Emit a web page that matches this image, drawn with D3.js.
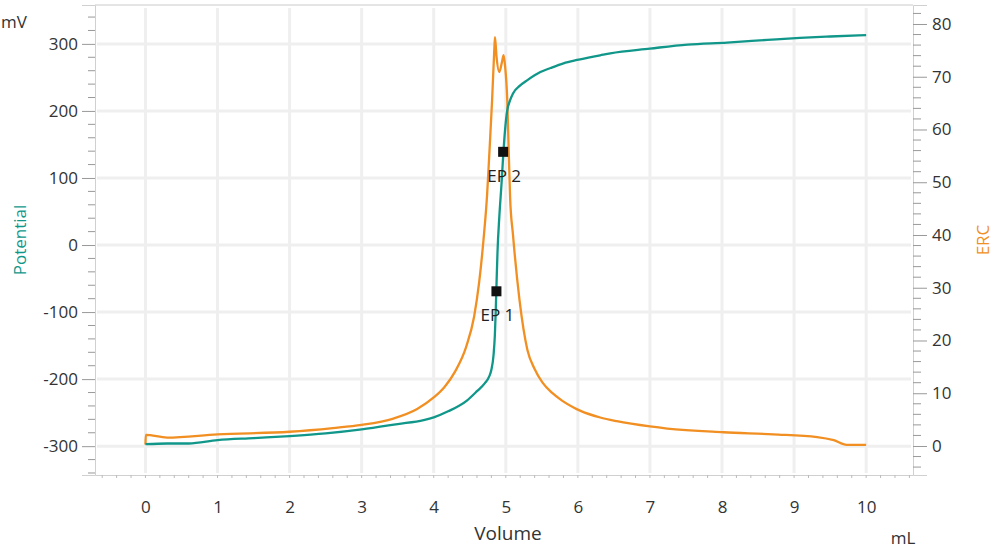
<!DOCTYPE html>
<html>
<head>
<meta charset="utf-8">
<script src="https://cdn.jsdelivr.net/npm/d3@7"></script>
<style>
  body { margin: 0; background: #fff; }
  svg text { font-family: "Open Sans", "Noto Sans", sans-serif; }
</style>
</head>
<body>
<svg id="chart" width="1000" height="557"></svg>
<script>
// titration curve: potential (left axis) and ERC (right axis) vs volume
var potVol = [0, 0.3, 0.6, 1.0, 1.5, 2.0, 2.5, 3.0, 3.5, 3.86, 4.0, 4.2, 4.46, 4.6, 4.71, 4.77, 4.80, 4.83, 4.848, 4.86, 4.872, 4.885, 4.91, 4.944, 4.962, 4.99, 5.017, 5.06, 5.1, 5.2, 5.3, 5.48, 5.62, 5.8, 5.99, 6.31, 6.45, 7.0, 7.52, 8.07, 8.63, 9.08, 9.5, 10.0];
var potMv = [-297, -296, -296, -291, -288, -285, -281, -275, -267, -261, -257, -248, -232, -218, -206, -196, -186, -164, -135, -100, -55, -10, 42, 97, 130, 172, 199, 216, 226, 238, 246, 258, 264, 271, 276, 283, 286, 293, 299, 302, 306, 309, 311, 313];

var ercVol = [0, 0.005, 0.3, 1.0, 2.0, 2.6, 3.0, 3.44, 3.77, 4.0, 4.15, 4.30, 4.45, 4.56, 4.63, 4.69, 4.74, 4.77, 4.81, 4.84, 4.85, 4.87, 4.91, 4.95, 4.97, 4.99, 5.02, 5.04, 5.06, 5.1, 5.19, 5.30, 5.40, 5.51, 5.64, 5.78, 5.94, 6.03, 6.31, 6.54, 7.0, 7.24, 8.02, 8.71, 9.32, 9.55, 9.73, 10.0];
var ercVal = [0.3, 2.1, 1.6, 2.2, 2.7, 3.4, 4.0, 5.2, 7.0, 9.2, 11.2, 14.2, 18.8, 24.5, 31, 39, 47.5, 55, 65.6, 75, 77.5, 74, 70.9, 73, 74.1, 72, 65.6, 56.1, 47, 40, 27.7, 18.2, 14.6, 12.0, 10.1, 8.6, 7.3, 6.7, 5.4, 4.7, 3.7, 3.3, 2.6, 2.2, 1.7, 1.1, 0.2, 0.2];

var epVol = [4.87, 4.963];
var epMv = [-69, 139];
var epNames = ["EP 1", "EP 2"];

var xTicks = [0, 1, 2, 3, 4, 5, 6, 7, 8, 9, 10];
var leftTicks = [-300, -200, -100, 0, 100, 200, 300];
var rightTicks = [0, 10, 20, 30, 40, 50, 60, 70, 80];

var teal = "#10978a", orange = "#f18f22";

var svg = d3.select("#chart");
var x = d3.scaleLinear().domain([-0.7, 10.65]).range([95, 913]);
var yL = d3.scaleLinear().domain([-343, 358]).range([475, 5]);
var yR = d3.scaleLinear().domain([-5.5, 83.6]).range([475, 5]);

// grid
var grid = svg.append("g").attr("stroke", "#efefef").attr("stroke-width", 3);
grid.selectAll(".gv").data(xTicks).enter().append("line")
    .attr("x1", d => x(d)).attr("x2", d => x(d)).attr("y1", 8).attr("y2", 473);
grid.selectAll(".gh").data(leftTicks).enter().append("line")
    .attr("x1", 97).attr("x2", 911).attr("y1", d => yL(d)).attr("y2", d => yL(d));

// top border
svg.append("line").attr("x1", 95).attr("x2", 913).attr("y1", 5).attr("y2", 5)
    .attr("stroke", "#dcdcdc").attr("stroke-width", 1.5);

var plain = d => String(d); // hyphen minus like the original

// left axis
var leftAx = d3.axisLeft(yL).tickValues(leftTicks).tickFormat(plain).tickSize(13).tickPadding(4);
var gl = svg.append("g").attr("transform", "translate(95,0)").call(leftAx);
gl.append("g").selectAll("line").data(d3.range(-340, 341, 20).filter(v => v % 100 != 0))
    .enter().append("line").attr("x1", -7).attr("x2", 0)
    .attr("y1", d => yL(d)).attr("y2", d => yL(d));

// right axis
var rightAx = d3.axisRight(yR).tickValues(rightTicks).tickFormat(plain).tickSize(14).tickPadding(5);
var gr = svg.append("g").attr("transform", "translate(913,0)").call(rightAx);
gr.append("g").selectAll("line").data(d3.range(-4, 83, 2).filter(v => v % 10 != 0))
    .enter().append("line").attr("x1", 0).attr("x2", 8)
    .attr("y1", d => yR(d)).attr("y2", d => yR(d));

// bottom axis
var bottomAx = d3.axisBottom(x).tickValues(xTicks).tickFormat(plain).tickSize(0).tickPadding(26);
var gb = svg.append("g").attr("transform", "translate(0,475)").call(bottomAx);
gb.append("g").selectAll("line").data(d3.range(-0.6, 10.61, 0.2))
    .enter().append("line").attr("x1", d => x(d)).attr("x2", d => x(d))
    .attr("y1", 0).attr("y2", 3);

[gl, gr, gb].forEach(function(g) {
    g.select(".domain").attr("stroke", "#d0d0d0");
    g.selectAll("line").attr("stroke", "#999");
    g.selectAll("text").attr("fill", "#333").style("font-size", "17px");
});
gb.selectAll("line").attr("stroke", "#bbb");

// curves
var potLine = d3.line().curve(d3.curveMonotoneX).x((d, i) => x(potVol[i])).y(d => yL(d));
var ercLine = d3.line().curve(d3.curveMonotoneX).x((d, i) => x(ercVol[i])).y(d => yR(d));

svg.append("path").datum(ercVal).attr("d", ercLine)
    .attr("fill", "none").attr("stroke", orange).attr("stroke-width", 2.3);
svg.append("path").datum(potMv).attr("d", potLine)
    .attr("fill", "none").attr("stroke", teal).attr("stroke-width", 2.3);

// endpoints
svg.selectAll(".ep").data(epVol).enter().append("rect")
    .attr("x", d => x(d) - 5).attr("y", (d, i) => yL(epMv[i]) - 5)
    .attr("width", 10).attr("height", 10).attr("fill", "#111");
svg.selectAll(".epl").data(epNames).enter().append("text")
    .attr("x", (d, i) => x(epVol[i]) + 1).attr("y", (d, i) => yL(epMv[i]) + 30)
    .attr("text-anchor", "middle").attr("fill", "#222").style("font-size", "17px")
    .text(d => d);

// axis titles
svg.append("text").attr("x", 1).attr("y", 28).attr("fill", "#333")
    .style("font-size", "17px").text("mV");
svg.append("text").attr("transform", "translate(26,240) rotate(-90)")
    .attr("text-anchor", "middle").attr("fill", teal).style("font-size", "17px").text("Potential");
svg.append("text").attr("transform", "translate(989,240) rotate(-90)")
    .attr("text-anchor", "middle").attr("fill", orange).style("font-size", "17px").text("ERC");
svg.append("text").attr("x", 508).attr("y", 540).attr("text-anchor", "middle")
    .attr("fill", "#333").style("font-size", "19px").text("Volume");
svg.append("text").attr("x", 903).attr("y", 544).attr("text-anchor", "middle")
    .attr("fill", "#333").style("font-size", "17px").text("mL");
</script>
</body>
</html>
